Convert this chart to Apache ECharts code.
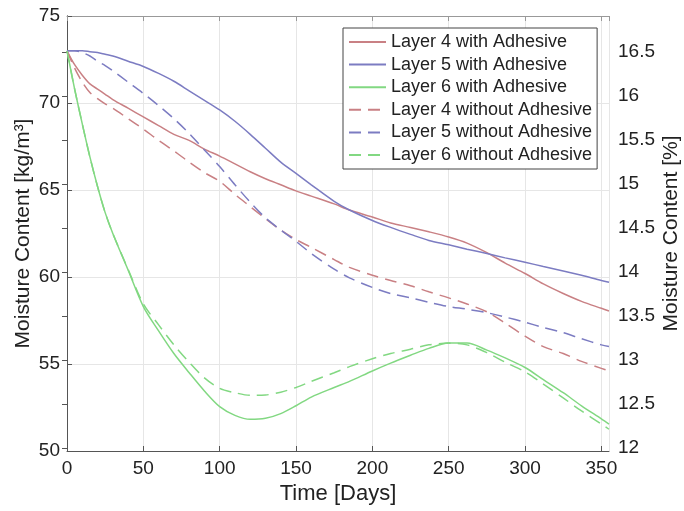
<!DOCTYPE html>
<html>
<head>
<meta charset="utf-8">
<script src="https://cdn.jsdelivr.net/npm/echarts@6/dist/echarts.min.js"></script>
<style>
  html, body { margin: 0; padding: 0; background: #fff; }
  #chart { width: 684px; height: 511px; }
</style>
</head>
<body>
<div id="chart"></div>
<script>
// sample days shared by every curve
const days = [0, 5, 10, 15, 20, 25, 30, 40, 50, 60, 70, 80, 90, 100, 110, 120, 130, 140, 150, 160,
  175, 185, 200, 212, 225, 237, 250, 262, 275, 287, 300, 312, 325, 337, 350, 355];

// moisture content [kg/m3]
const layer4With = [73, 72.2, 71.6, 71.1, 70.8, 70.5, 70.2, 69.7, 69.2, 68.7, 68.2, 67.85, 67.35, 66.95,
  66.5, 66.05, 65.65, 65.3, 64.95, 64.65, 64.2, 63.85, 63.45, 63.1, 62.85, 62.6, 62.3, 61.95, 61.4,
  60.8, 60.2, 59.6, 59.05, 58.6, 58.2, 58.05];
const layer5With = [73, 73, 73, 72.95, 72.9, 72.8, 72.7, 72.4, 72.1, 71.7, 71.25, 70.7, 70.15, 69.6,
  68.95, 68.2, 67.4, 66.6, 65.95, 65.3, 64.35, 63.85, 63.25, 62.85, 62.45, 62.1, 61.85, 61.6, 61.35,
  61.1, 60.85, 60.6, 60.35, 60.1, 59.8, 59.7];
const layer6With = [73, 70.8, 68.8, 66.9, 65.2, 63.7, 62.5, 60.4, 58.3, 56.9, 55.6, 54.5, 53.45, 52.55,
  52.05, 51.82, 51.88, 52.15, 52.6, 53.1, 53.65, 54.0, 54.6, 55.05, 55.5, 55.9, 56.2, 56.2, 55.8,
  55.35, 54.8, 54.1, 53.35, 52.6, 51.85, 51.55];
const layer4Without = [73, 72.0, 71.2, 70.6, 70.25, 69.95, 69.7, 69.1, 68.5, 67.85, 67.25, 66.6, 66.0,
  65.5, 64.75, 64.05, 63.35, 62.7, 62.15, 61.7, 61.0, 60.55, 60.1, 59.8, 59.5, 59.15, 58.8, 58.45,
  58.0, 57.35, 56.6, 56.0, 55.6, 55.15, 54.75, 54.6];
const layer5Without = [73, 73, 72.9, 72.7, 72.4, 72.15, 71.85, 71.2, 70.55, 69.85, 69.1, 68.25, 67.3, 66.35,
  65.3, 64.3, 63.4, 62.7, 62.05, 61.35, 60.45, 59.95, 59.4, 59.05, 58.8, 58.55, 58.3, 58.15, 57.95,
  57.7, 57.4, 57.1, 56.8, 56.45, 56.1, 56.0];
const layer6Without = [73, 70.8, 68.8, 66.9, 65.2, 63.7, 62.5, 60.45, 58.45, 57.25, 56.1, 55.1, 54.2,
  53.6, 53.35, 53.2, 53.22, 53.38, 53.65, 54.0, 54.5, 54.85, 55.3, 55.6, 55.85, 56.1, 56.2, 56.1,
  55.65, 55.1, 54.55, 53.85, 53.05, 52.3, 51.55, 51.25];

const rightTicks = [12, 12.5, 13, 13.5, 14, 14.5, 15, 15.5, 16, 16.5];

const font = 'Liberation Sans';
const red = '#c98084';
const blue = '#7c7cc2';
const green = '#82d882';

const pair = vals => days.map((d, i) => [d, vals[i]]);

function line(name, vals, color, dashed) {
  return {
    name: name,
    type: 'line',
    data: pair(vals),
    symbol: 'none',
    smooth: 0.3,
    lineStyle: {color: color, width: 1.5, type: dashed ? [12, 7] : 'solid'},
    itemStyle: {color: color},
  };
}

const chart = echarts.init(document.getElementById('chart'));
chart.setOption({
  animation: false,
  textStyle: {fontFamily: font},
  grid: {left: 67, right: 75, top: 16, bottom: 60, containLabel: false, outerBoundsMode: 'none'},
  legend: {
    orient: 'vertical',
    left: 343,
    top: 28,
    itemWidth: 37,
    itemHeight: 18,
    itemGap: 4.6,
    padding: [5, 5, 5, 5],
    backgroundColor: '#fff',
    borderColor: '#444',
    borderWidth: 1,
    itemStyle: {opacity: 0},
    textStyle: {fontSize: 18, color: '#222', fontFamily: font},
  },
  xAxis: [{
    type: 'value',
    min: 0,
    max: 355,
    interval: 50,
    name: 'Time [Days]',
    nameLocation: 'middle',
    nameGap: 32,
    nameTextStyle: {fontSize: 22, color: '#222'},
    axisLine: {show: true, lineStyle: {color: '#555'}},
    axisTick: {show: true, inside: true, length: 5, lineStyle: {color: '#555'}},
    axisLabel: {fontSize: 19, color: '#222', margin: 8},
    splitLine: {show: true, lineStyle: {color: '#e6e6e6'}},
  }, {
    type: 'value',
    position: 'top',
    min: 0,
    max: 355,
    interval: 50,
    axisLine: {show: true, lineStyle: {color: '#999'}},
    axisTick: {show: true, inside: true, length: 5, lineStyle: {color: '#999'}},
    axisLabel: {show: false},
    splitLine: {show: false},
  }],
  yAxis: [{
    type: 'value',
    min: 50,
    max: 75,
    interval: 5,
    name: 'Moisture Content [kg/m³]',
    nameLocation: 'middle',
    nameGap: 33,
    nameMoveOverlap: false,
    nameTextStyle: {fontSize: 21, color: '#222'},
    axisLine: {show: true, lineStyle: {color: '#555'}},
    axisTick: {show: true, inside: true, length: 5, lineStyle: {color: '#555'}},
    axisLabel: {fontSize: 19, color: '#222', margin: 7},
    splitLine: {show: true, lineStyle: {color: '#e6e6e6'}},
  }, {
    type: 'value',
    position: 'right',
    min: 11.966,
    max: 16.91,
    name: 'Moisture Content [%]',
    nameLocation: 'middle',
    nameGap: 52,
    nameRotate: 90,
    nameMoveOverlap: false,
    nameTextStyle: {fontSize: 21, color: '#222'},
    axisLine: {show: true, lineStyle: {color: '#555'}},
    axisTick: {show: true, inside: true, length: 5, customValues: rightTicks, lineStyle: {color: '#555'}},
    axisLabel: {fontSize: 19, color: '#222', margin: 9, customValues: rightTicks},
    splitLine: {show: false},
  }],
  series: [
    line('Layer 4 with Adhesive', layer4With, red, false),
    line('Layer 5 with Adhesive', layer5With, blue, false),
    line('Layer 6 with Adhesive', layer6With, green, false),
    line('Layer 4 without Adhesive', layer4Without, red, true),
    line('Layer 5 without Adhesive', layer5Without, blue, true),
    line('Layer 6 without Adhesive', layer6Without, green, true),
  ],
});
</script>
</body>
</html>
